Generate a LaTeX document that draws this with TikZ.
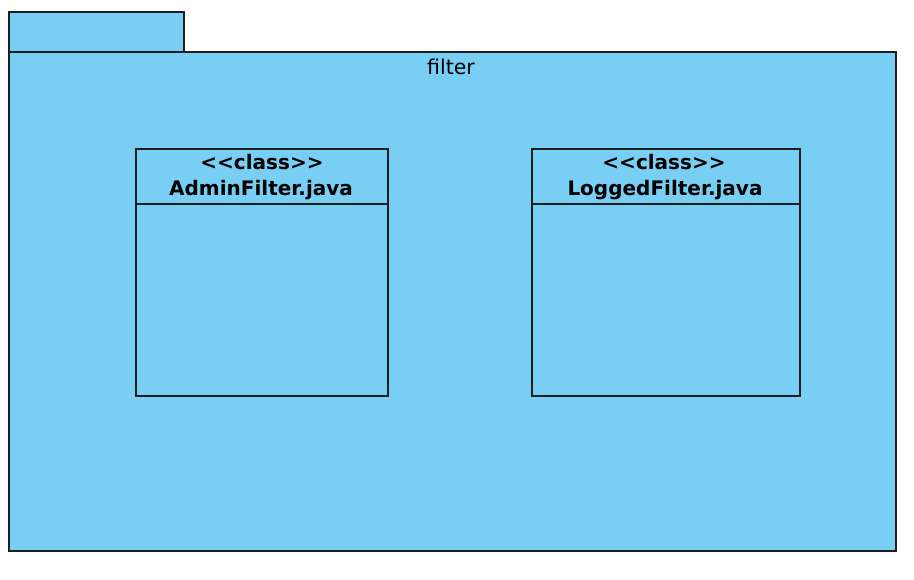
\documentclass[tikz,border=0pt]{standalone}
\usepackage{fontspec}
\setmainfont{DejaVu Sans}
\definecolor{pkgblue}{RGB}{121,206,243}
\definecolor{edge}{RGB}{30,30,30}
\begin{document}
\begin{tikzpicture}[x=1pt,y=-1pt,
  shapebox/.style={draw=edge,fill=pkgblue,line width=1.8pt},
  stereo/.style={font=\fontsize{20}{22}\selectfont\bfseries,inner sep=0pt},
  pkglabel/.style={font=\fontsize{20.5}{22}\selectfont,inner sep=0pt}]
\useasboundingbox (0,0) rectangle (914,580);
% package tab and body
\draw[shapebox] (9,12) rectangle (184,52);
\draw[shapebox] (9,52) rectangle (896,551);
\node[pkglabel] (pkgname) at (451,67) {filter};
% AdminFilter class
\draw[shapebox] (136,149) rectangle (388,396);
\draw[edge,line width=1.8pt] (136,204) -- (388,204);
\node[stereo] (adminst) at (262,162) {<{}<class>{}>};
\node[stereo] (adminname) at (261,190) {AdminFilter.java};
% LoggedFilter class
\draw[shapebox] (532,149) rectangle (800,396);
\draw[edge,line width=1.8pt] (532,204) -- (800,204);
\node[stereo] (loggedst) at (664,162) {<{}<class>{}>};
\node[stereo] (loggedname) at (665,190) {LoggedFilter.java};
\end{tikzpicture}
\end{document}
